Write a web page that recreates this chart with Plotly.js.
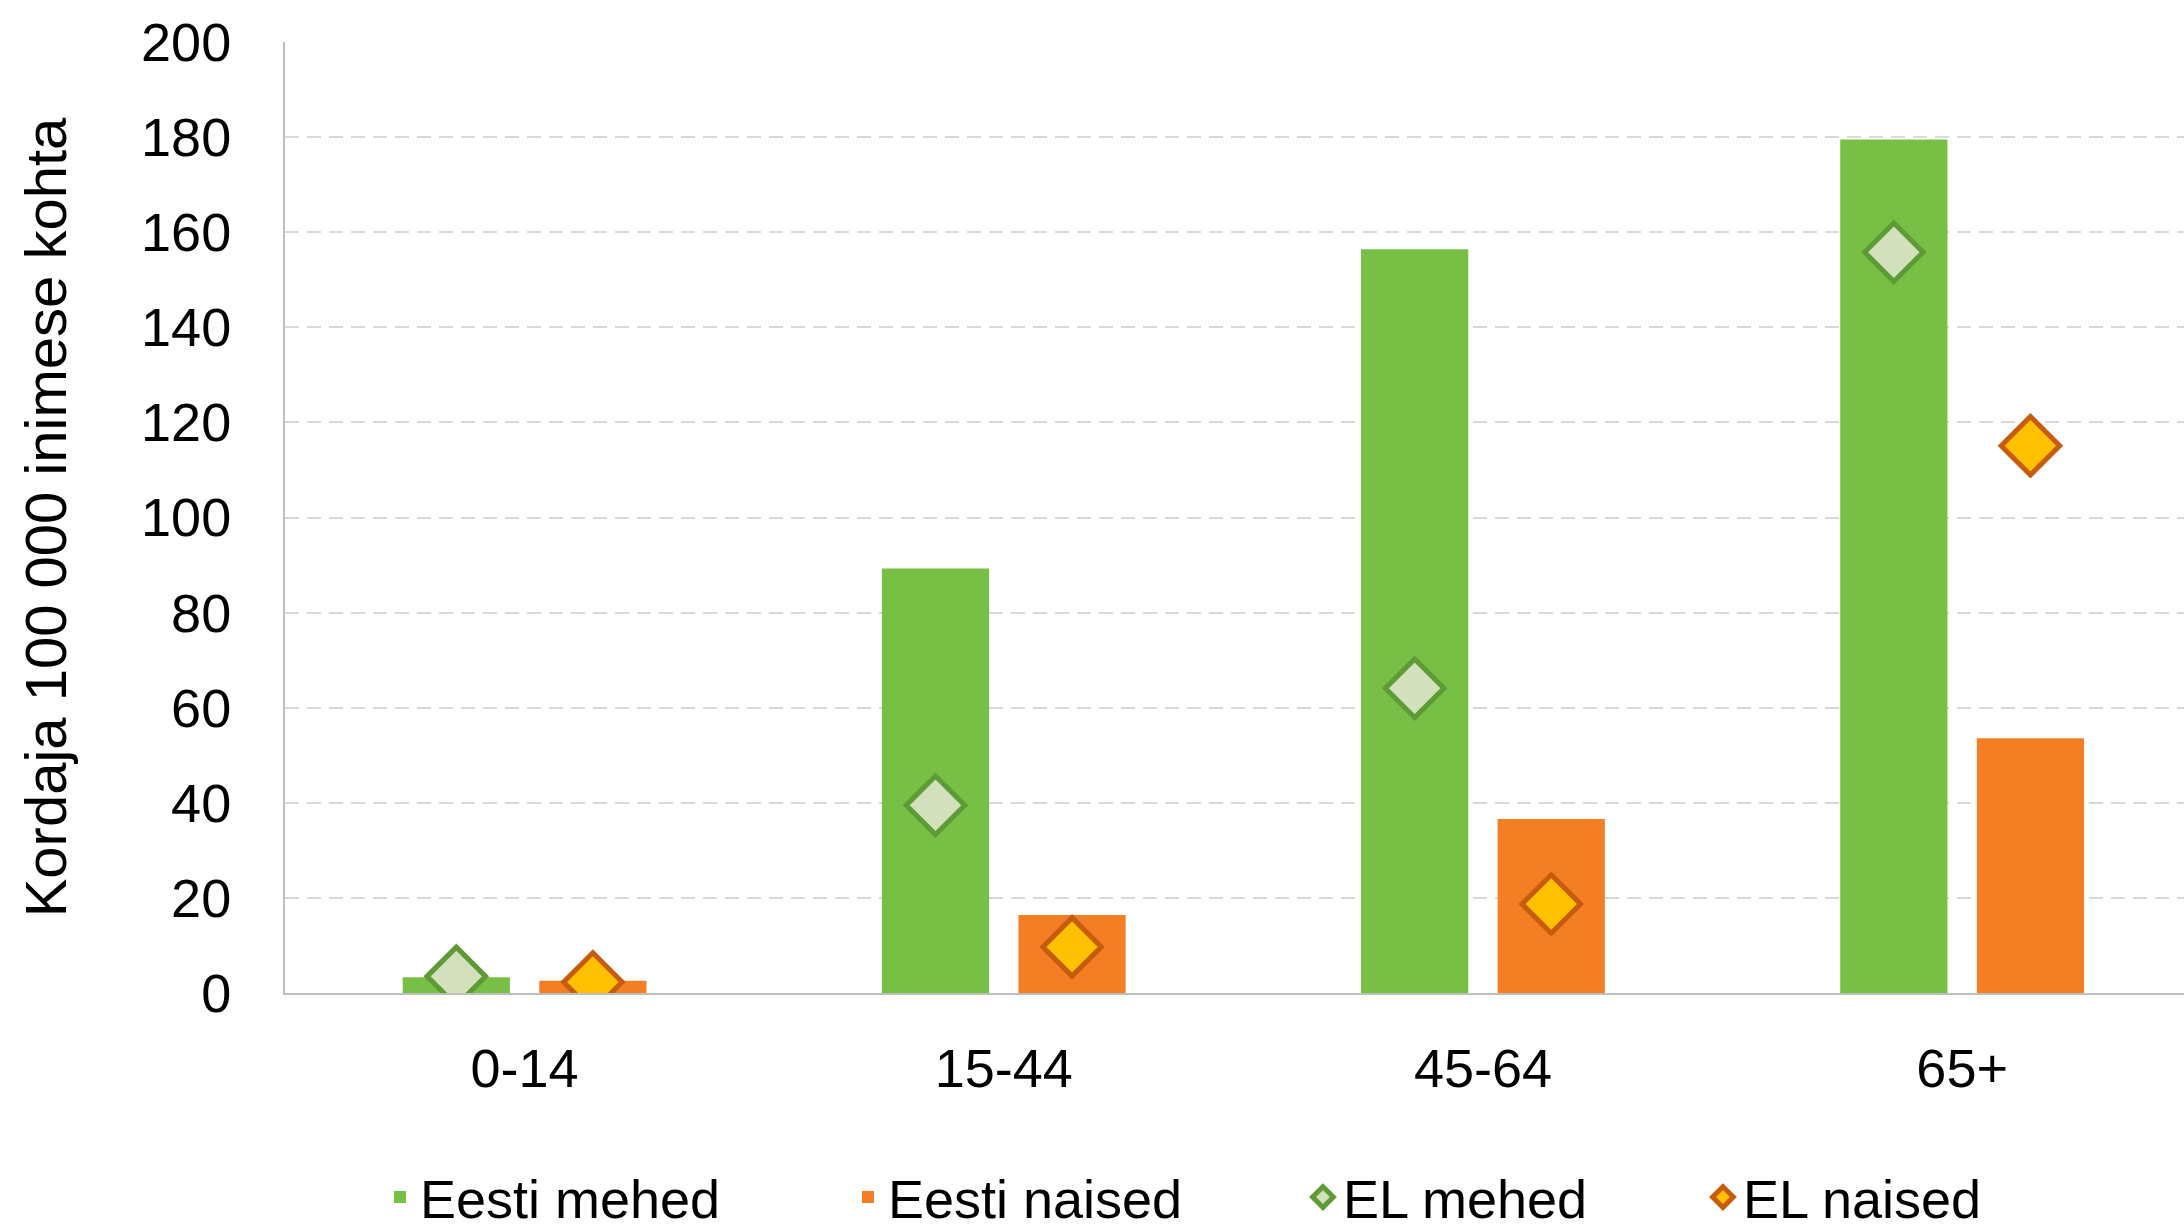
<!DOCTYPE html>
<html>
<head>
<meta charset="utf-8">
<script src="https://cdn.plot.ly/plotly-3.0.1.min.js"></script>
<style>html,body{margin:0;padding:0;background:#fff;}#chart{width:2184px;height:1231px;}</style>
</head>
<body>
<div id="chart"></div>
<script>
const categories = ['0-14', '15-44', '45-64', '65+'];
const eestiMehed = [3.3, 89.3, 156.4, 179.5];
const eestiNaised = [2.6, 16.4, 36.6, 53.6];
const elMehed = [3.5, 39.5, 64.1, 155.8];
const elNaised = [2.3, 9.7, 18.7, 115.1];
const yTicks = [0, 20, 40, 60, 80, 100, 120, 140, 160, 180, 200];

const FONT = 'Liberation Sans, Arial, sans-serif';

const traces = [
  {type: 'bar', name: 'Eesti mehed', x: categories, y: eestiMehed, offsetgroup: 'm',
   marker: {color: '#77BF45'}, legendwidth: 423},
  {type: 'bar', name: 'Eesti naised', x: categories, y: eestiNaised, offsetgroup: 'n',
   marker: {color: '#F47E24'}, legendwidth: 410},
  {type: 'scatter', mode: 'markers', name: 'EL mehed', x: categories, y: elMehed, offsetgroup: 'm',
   marker: {symbol: 'diamond', size: 45, color: '#D2E1BC', line: {color: '#5E9A35', width: 5}}, legendwidth: 355},
  {type: 'scatter', mode: 'markers', name: 'EL naised', x: categories, y: elNaised, offsetgroup: 'n',
   marker: {symbol: 'diamond', size: 45, color: '#FFC000', line: {color: '#C65C0E', width: 5}}}
];

const layout = {
  width: 2184, height: 1231,
  margin: {l: 285, r: 0, t: 42, b: 238, autoexpand: false},
  paper_bgcolor: '#fff', plot_bgcolor: '#fff',
  font: {family: FONT, size: 54, color: '#000'},
  barmode: 'group', bargap: 0.43, bargroupgap: 0.215,
  scattermode: 'group', scattergap: 0.43,
  showlegend: true,
  legend: {orientation: 'h', x: 0.05, xanchor: 'left', y: -0.215, yanchor: 'middle',
           font: {family: FONT, size: 54, color: '#000'}, traceorder: 'normal'},
  xaxis: {type: 'category', range: [-0.5, 3.463], showgrid: false, showline: true, linecolor: '#BFBFBF', linewidth: 2,
          ticks: '', ticklabelstandoff: 27, tickfont: {family: FONT, size: 54}},
  yaxis: {range: [0, 200], tickvals: yTicks, showgrid: true, gridcolor: '#D9D9D9', gridwidth: 2,
          griddash: '14px,8px', showline: true, linecolor: '#BFBFBF', linewidth: 2, zeroline: false,
          ticks: '', ticklabelstandoff: 41, tickfont: {family: FONT, size: 54},
          title: {text: 'Kordaja 100 000 inimese kohta', font: {family: FONT, size: 58}, standoff: 56}}
};

Plotly.newPlot('chart', traces, layout, {displayModeBar: false, staticPlot: true});
</script>
</body>
</html>
